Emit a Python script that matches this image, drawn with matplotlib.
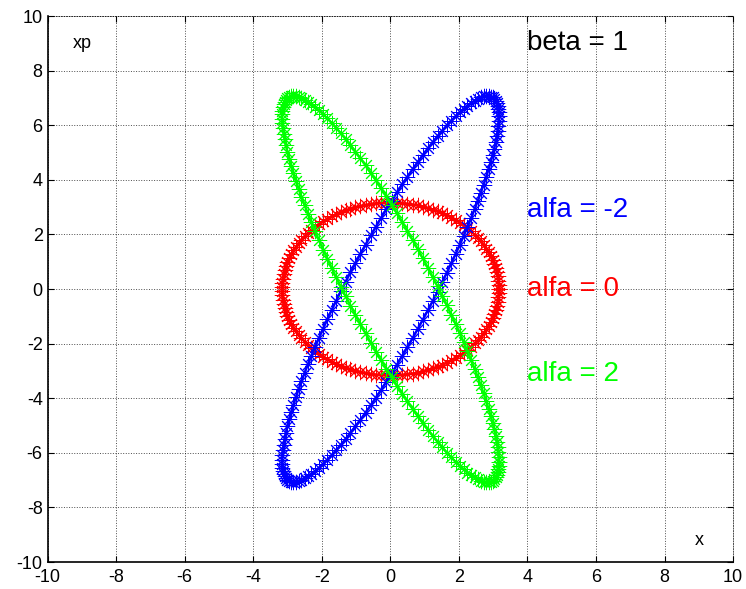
import numpy as np
import matplotlib
matplotlib.use("Agg")
import matplotlib.pyplot as plt

plt.rcParams['font.family'] = ['Liberation Sans', 'DejaVu Sans']
plt.rcParams['axes.unicode_minus'] = False

# Twiss parameters of the phase-space ellipses
beta = 1.0
emittance = 10.0
alfa_values = [0, -2, 2]
colors = ['#ff0000', '#0000ff', '#00ff00']
labels = ['alfa = 0', 'alfa = -2', 'alfa = 2']
label_y = [0.0, 2.9, -3.1]
n_points = 130

fig = plt.figure(figsize=(7.46, 5.89), dpi=100)
ax = fig.add_axes([0.0638, 0.0458, 0.919, 0.927])

asterisk = (8, 2, 0)
phi = np.linspace(0, 2 * np.pi, n_points)
for alfa, c in zip(alfa_values, colors):
    x = np.sqrt(emittance * beta) * np.cos(phi)
    xp = -np.sqrt(emittance / beta) * (alfa * np.cos(phi) + np.sin(phi))
    ax.plot(x, xp, color=c, marker=asterisk, markersize=11, linewidth=1.8,
            markeredgewidth=0.7)

for lab, y, c in zip(labels, label_y, colors):
    ax.text(4, y, lab, color=c, fontsize=20, va='center', ha='left')
ax.text(4, 9.0, 'beta = 1', color='black', fontsize=20, va='center', ha='left')
ax.text(-9, 9.0, 'xp', fontsize=13, va='center', ha='center')
ax.text(9.0, -9.2, 'x', fontsize=13, va='center', ha='center')

ax.set_xlim(-10, 10)
ax.set_ylim(-10, 10)
ticks = np.arange(-10, 11, 2)
ax.set_xticks(ticks)
ax.set_yticks(ticks)
ax.tick_params(direction='in', top=True, right=True, labelsize=13, length=4)
ax.tick_params(axis='x', pad=5)
ax.grid(True, color='black', linestyle=':', linewidth=0.7, alpha=0.7)
for s in ['top', 'right']:
    ax.spines[s].set_linestyle(':')
    ax.spines[s].set_linewidth(0.7)
    ax.spines[s].set_alpha(0.7)
for s in ['left', 'bottom']:
    ax.spines[s].set_linewidth(1.2)

fig.savefig('out.png', dpi=100)
